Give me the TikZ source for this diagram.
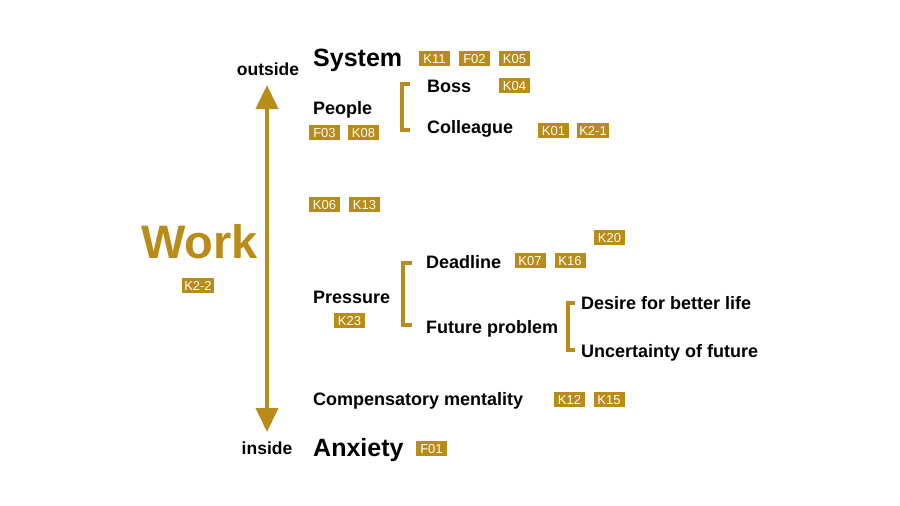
\documentclass[tikz,border=0pt]{standalone}
\usepackage{fontspec}
\setmainfont{Liberation Sans}
\usetikzlibrary{arrows.meta}
\definecolor{gold}{RGB}{185,139,25}
\tikzset{
  lbl/.style={anchor=base west, inner sep=0pt, font=\fontsize{18}{18}\selectfont\bfseries, text=black},
  big/.style={anchor=base west, inner sep=0pt, font=\fontsize{25}{25}\selectfont\bfseries, text=black},
  side/.style={anchor=base, inner sep=0pt, font=\fontsize{17.5}{17.5}\selectfont\bfseries, text=black},
  tag/.style={fill=gold, text=white, font=\fontsize{13}{13}\selectfont, inner xsep=2pt, inner ysep=0pt,
    minimum width=31pt, minimum height=15pt, text height=9.3pt, text depth=0pt},
  brk/.style={draw=gold, line width=4pt},
  axis/.style={draw=gold, line width=4pt, {Triangle[width=22pt,length=24pt]}-{Triangle[width=22pt,length=24pt]}}
}
\begin{document}
\begin{tikzpicture}[x=1pt,y=-1pt]
\useasboundingbox (0,0) rectangle (900,506);
% axis
\node[side] (outside) at (268,75) {outside};
\node[side] (inside) at (267,454) {inside};
\coordinate (top) at (267,85);
\coordinate (bot) at (267,432);
\draw[axis] (top) -- (bot);
\node[anchor=base west, inner sep=0pt, font=\fontsize{47}{47}\selectfont\bfseries, text=gold] (work) at (141,258) {Work};
\node[tag] (k22) at (198,285.5) {K2-2};
% System
\node[big] (system) at (313,66.5) {System};
\node[tag] (k11) at (434.5,58.5) {K11};
\node[tag] (f02) at (474.5,58.5) {F02};
\node[tag] (k05) at (514.5,58.5) {K05};
% People
\node[lbl] (people) at (313,114) {People};
\node[tag] (f03) at (324.5,132.5) {F03};
\node[tag] (k08) at (363.5,132.5) {K08};
\draw[brk] (410,83.7) -- (402,83.7) -- (402,129.7) -- (410,129.7);
\node[lbl] (boss) at (427,92) {Boss};
\node[tag] (k04) at (514.5,85.5) {K04};
\node[lbl] (colleague) at (427,133) {Colleague};
\node[tag] (k01) at (553.5,130.5) {K01};
\node[tag] (k21) at (593,130.5) {K2-1};
% middle tags
\node[tag] (k06) at (324.5,204.5) {K06};
\node[tag] (k13) at (364.5,204.5) {K13};
\node[tag] (k20) at (609.5,237.5) {K20};
% Pressure
\node[lbl] (pressure) at (313,303) {Pressure};
\node[tag] (k23) at (349.5,320.5) {K23};
\draw[brk] (411.7,262.7) -- (402.7,262.7) -- (402.7,325) -- (411.7,325);
\node[lbl] (deadline) at (426,268.3) {Deadline};
\node[tag] (k07) at (530,260.5) {K07};
\node[tag] (k16) at (570,260.5) {K16};
\node[lbl] (future) at (426,333) {Future problem};
\draw[brk] (575,302.7) -- (568,302.7) -- (568,349.7) -- (575,349.7);
\node[lbl] (desire) at (581,309.3) {Desire for better life};
\node[lbl] (uncert) at (581,357.3) {Uncertainty of future};
% Compensatory
\node[lbl] (comp) at (313,405) {Compensatory mentality};
\node[tag] (k12) at (569.5,399.5) {K12};
\node[tag] (k15) at (609,399.5) {K15};
% Anxiety
\node[big] (anxiety) at (313,456) {Anxiety};
\node[tag] (f01) at (431.5,448.5) {F01};
\end{tikzpicture}
\end{document}
